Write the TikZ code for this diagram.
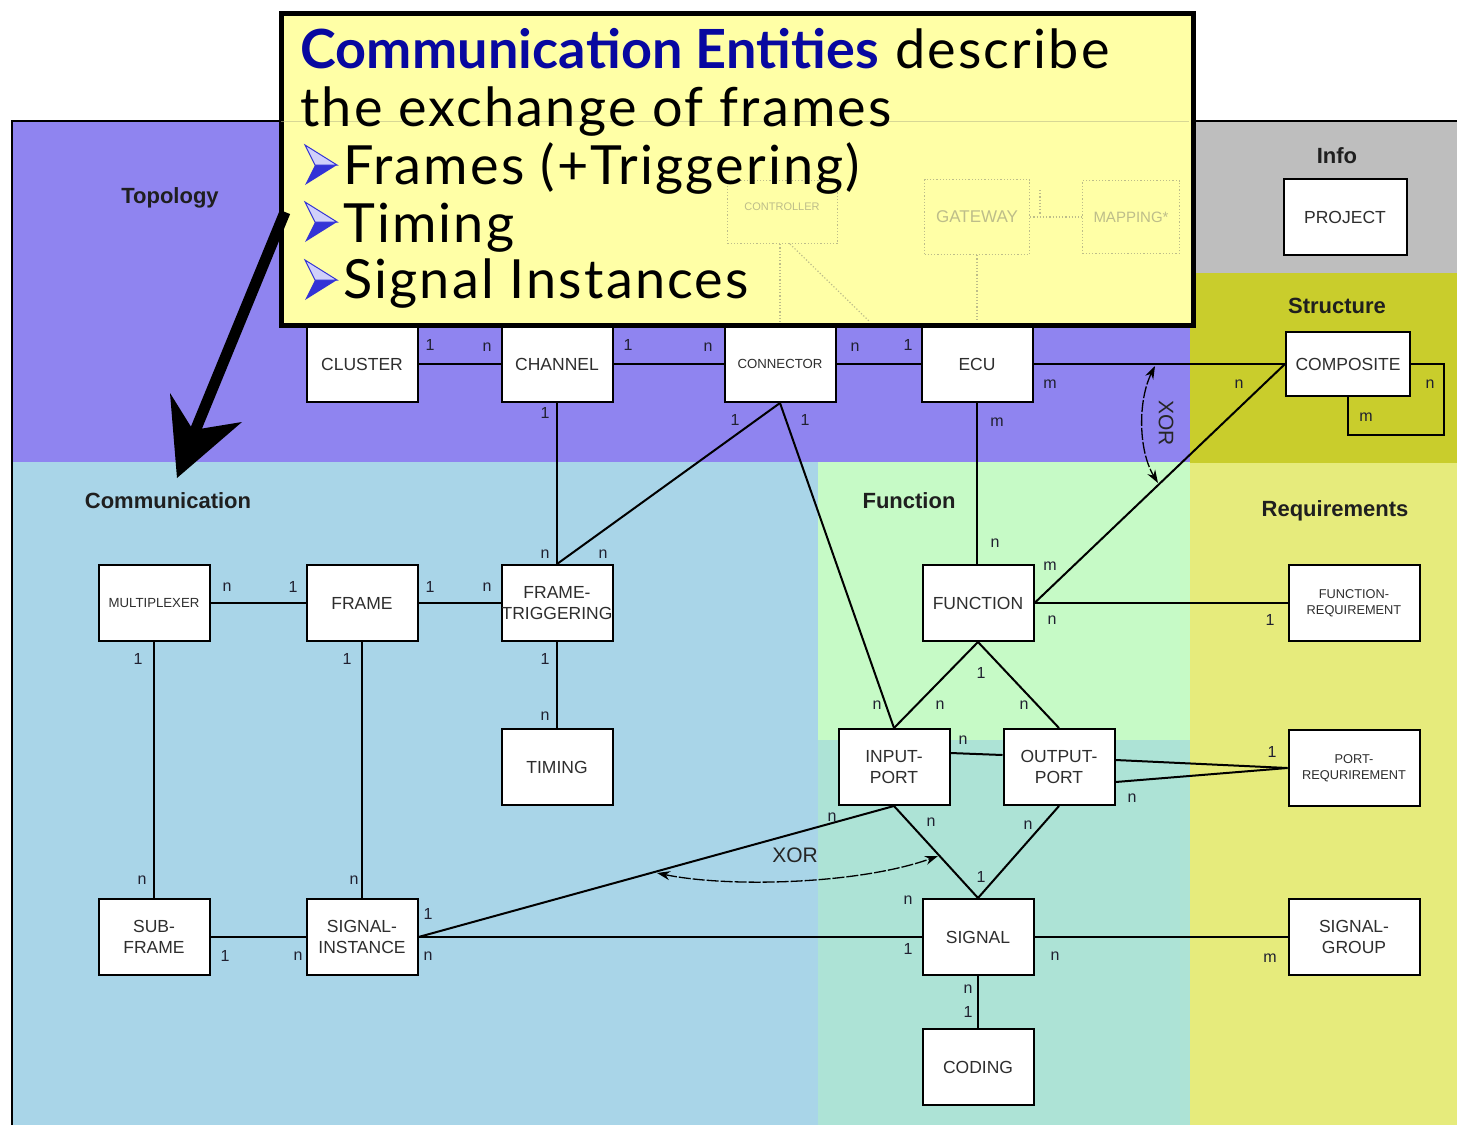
\documentclass[tikz,border=0pt]{standalone}
\usepackage{fontspec}
\setmainfont{Liberation Sans}
\newfontfamily\callfont[LetterSpace=4, BoldFeatures={LetterSpace=0.3}]{Lato}
\usetikzlibrary{arrows.meta,calc}

\definecolor{topo}{HTML}{8F84F0}
\definecolor{comm}{HTML}{A9D5E8}
\definecolor{func}{HTML}{C6FAC6}
\definecolor{overlap}{HTML}{ADE3D6}
\definecolor{reqs}{HTML}{E6EB7C}
\definecolor{struct}{HTML}{C9CD2C}
\definecolor{info}{HTML}{BEBEBE}
\definecolor{callfill}{HTML}{FFFFA6}
\definecolor{calltitle}{HTML}{0808A0}
\definecolor{bulletblue}{HTML}{3333D6}
\definecolor{bulletlight}{HTML}{D0D0FA}
\definecolor{boxtext}{HTML}{2E2E2E}
\definecolor{cardtext}{HTML}{202030}
\definecolor{ghost}{HTML}{BDBD8A}

\tikzset{
  entity/.style={draw=black, line width=2pt, fill=white, minimum width=111pt,
    minimum height=76pt, inner sep=0pt, align=center, text=boxtext,
    font=\fontsize{17.5}{21}\selectfont},
  smalltext/.style={font=\fontsize{13.2}{15}\selectfont},
  reqtext/.style={font=\fontsize{12.8}{16}\selectfont},
  link/.style={draw=black, line width=2pt},
  card/.style={font=\fontsize{16}{16}\selectfont, text=cardtext, inner sep=0pt},
  region/.style={font=\bfseries\fontsize{22}{22}\selectfont, text=black!88, inner sep=0pt},
  xorlabel/.style={font=\fontsize{21}{21}\selectfont, text=black!85, inner sep=0pt},
  xorarc/.style={line width=1.3pt, dash pattern=on 12pt off 2pt,
    {Stealth[length=13pt,width=9pt]}-{Stealth[length=13pt,width=9pt]}},
  calltext/.style={font=\callfont\fontsize{54}{58}\selectfont, inner sep=0pt, anchor=base west},
  ghostbox/.style={draw=ghost, dotted, line width=1.2pt, inner sep=0pt,
    font=\fontsize{13}{15}\selectfont, text=ghost},
  callbullet/.pic={
    \fill[bulletblue] (0,0) -- (-22,0) -- (-32,20) -- cycle;
    \filldraw[fill=bulletlight, draw=bulletblue, line width=1pt] (0,0) -- (-32,-20) -- (-22,0) -- cycle;
  }
}

\begin{document}
\begin{tikzpicture}[x=1pt, y=-1pt]
\useasboundingbox (0,0) rectangle (1457,1125);
\fill[white] (0,0) rectangle (1457,1125);

% package regions
\fill[topo] (12,121) rectangle (1190,462);
\fill[info] (1190,121) rectangle (1457,273);
\fill[struct] (1190,273) rectangle (1457,463);
\fill[comm] (12,462) rectangle (818,1125);
\fill[func] (818,462) rectangle (1190,740);
\fill[overlap] (818,740) rectangle (1190,1125);
\fill[reqs] (1190,463) rectangle (1457,1125);
\draw[line width=2pt] (12,1125) -- (12,121) -- (1457,121);

% region titles
\node[region] (tTopo) at (170,198) {Topology};
\node[region] (tInfo) at (1337,156) {Info};
\node[region] (tStruct) at (1337,306) {Structure};
\node[region] (tComm) at (168,501) {Communication};
\node[region] (tFunc) at (909,501) {Function};
\node[region] (tReq) at (1335,511) {Requirements};

% entities
\node[entity] (cluster) at (362,364) {CLUSTER};
\node[entity] (channel) at (557,364) {CHANNEL};
\node[entity, smalltext] (connector) at (780,364) {CONNECTOR};
\node[entity] (ecu) at (977,364) {ECU};
\node[entity, minimum width=124pt, minimum height=64pt] (composite) at (1348,364) {COMPOSITE};
\node[entity, minimum width=123pt] (project) at (1345,217) {PROJECT};
\node[entity, smalltext] (mux) at (154,603) {MULTIPLEXER};
\node[entity] (frame) at (362,603) {FRAME};
\node[entity] (ftrig) at (557,603) {FRAME-\\TRIGGERING};
\node[entity] (function) at (978,603) {FUNCTION};
\node[entity, minimum width=131pt, reqtext] (freq) at (1354,603) {FUNCTION-\\REQUIREMENT};
\node[entity] (timing) at (557,767) {TIMING};
\node[entity] (inport) at (894,767) {INPUT-\\PORT};
\node[entity] (outport) at (1059,767) {OUTPUT-\\PORT};
\node[entity, minimum width=131pt, reqtext] (preq) at (1354,768) {PORT-\\REQURIREMENT};
\node[entity] (subframe) at (154,937) {SUB-\\FRAME};
\node[entity] (siginst) at (362,937) {SIGNAL-\\INSTANCE};
\node[entity] (signal) at (978,937) {SIGNAL};
\node[entity, minimum width=131pt] (sgroup) at (1354,937) {SIGNAL-\\GROUP};
\node[entity] (coding) at (978,1067) {CODING};

% relations
\draw[link] (cluster) -- (channel);
\draw[link] (channel) -- (connector);
\draw[link] (connector) -- (ecu);
\draw[link] (ecu.east) -- (composite.west);
\draw[link] (composite.east) -- ++(33,0) -- ++(0,71) -| (composite.south);
\draw[link] (ecu.south) -- (ecu.south |- function.north);
\draw[link] (function.east) -- (composite.west);
\draw[link] (channel.south) -- (ftrig.north);
\draw[link] (connector.south) -- (ftrig.north);
\draw[link] (connector.south) -- (inport.north);
\draw[link] (mux) -- (frame);
\draw[link] (frame) -- (ftrig);
\draw[link] (ftrig) -- (timing);
\draw[link] (mux) -- (subframe);
\draw[link] (frame) -- (siginst);
\draw[link] (subframe) -- (siginst);
\draw[link] (siginst) -- (signal);
\draw[link] (siginst.east) -- (inport.south);
\draw[link] (function.south) -- (inport.north);
\draw[link] (function.south) -- (outport.north);
\draw[link] ($(inport.east)+(0,-14)$) -- ($(outport.west)+(0,-12)$);
\draw[link] (inport.south) -- (signal.north);
\draw[link] (outport.south) -- (signal.north);
\draw[link] (function.east) -- (freq.west);
\draw[link] ($(outport.east)+(0,-7)$) -- (preq.west);
\draw[link] ($(outport.east)+(0,15)$) -- (preq.west);
\draw[link] (signal) -- (sgroup);
\draw[link] (signal) -- (coding);

% XOR constraints
\coordinate (xa1) at (1155,366);
\coordinate (xa2) at (1158,483);
\draw[xorarc] (xa1) .. controls (1138,400) and (1138,450) .. (xa2);
\node[xorlabel, rotate=-90] (xorA) at (1166,423) {XOR};
\coordinate (xb1) at (657,873);
\coordinate (xb2) at (938,856);
\draw[xorarc] (xb1) .. controls (730,888) and (860,884) .. (xb2);
\node[xorlabel] (xorB) at (795,855) {XOR};

% cardinalities
\foreach \px/\py/\t [count=\i] in {
  430/345/1, 487/347/n, 628/345/1, 708/347/n, 855/347/n, 908/345/1,
  1050/384/m, 1239/384/n, 1430/384/n, 1366/417/m, 545/413/1, 735/420/1,
  805/420/1, 997/422/m, 545/554/n, 603/554/n, 995/543/n, 1050/566/m,
  227/587/n, 293/587/1, 430/587/1, 487/587/n, 1052/620/n, 1270/620/1,
  138/659/1, 347/659/1, 545/659/1, 981/673/1, 545/716/n, 877/705/n,
  940/705/n, 1024/705/n, 963/740/n, 1272/752/1, 1132/798/n, 832/817/n,
  931/822/n, 1028/825/n, 142/880/n, 354/880/n, 981/877/1, 908/900/n,
  428/914/1, 225/956/1, 298/956/n, 428/956/n, 908/949/1, 1055/956/n,
  1270/958/m, 968/989/n, 968/1012/1}
  \node[card, name=card\i] at (\px,\py) {\t};

% callout
\node[draw=black, line width=4.5pt, fill=callfill, minimum width=912pt,
      minimum height=312pt, anchor=north west, inner sep=0pt] (callout) at (279,11) {};
% faint topology entities behind the callout
\draw[ghost, line width=1pt, opacity=0.6] (281,121) -- (1189,121);
\node[ghostbox, minimum width=110pt, minimum height=63pt, anchor=north west] (ghctrl) at (727,180) {};
\node[ghostbox, draw=none, anchor=north, font=\fontsize{11}{13}\selectfont] (ghctrlt) at (782,202) {CONTROLLER};
\node[ghostbox, minimum width=105pt, minimum height=75pt, font=\fontsize{17}{19}\selectfont] (gateway) at (977,217) {GATEWAY};
\node[ghostbox, minimum width=97pt, minimum height=73pt, font=\fontsize{15}{17}\selectfont] (mapping) at (1131,217) {MAPPING*};
\draw[ghost, dotted, line width=1.2pt] (gateway.east) -- (mapping.west);
\draw[ghost, dotted, line width=1.2pt] (ghctrl.south -| 780,0) -- (780,322);
\draw[ghost, dotted, line width=1.2pt] (790,244) -- (870,322);
\draw[ghost, dotted, line width=1.2pt] (gateway.south) -- (977,322);
\draw[ghost, dotted, line width=1.2pt] (1040,190) -- (1040,214);

\node[calltext] (cl1) at (300,68) {\textcolor{calltitle}{\bfseries Communication Entities} describe};
\node[calltext] (cl2) at (300,126) {the exchange of frames};
\node[calltext] (cl3) at (343,184) {Frames (+Triggering)};
\node[calltext] (cl4) at (343,242) {Timing};
\node[calltext] (cl5) at (343,298) {Signal Instances};
\pic at (337,165) {callbullet};
\pic at (337,222) {callbullet};
\pic at (337,280) {callbullet};

% pointer to the communication package
\coordinate (arrowstart) at (285,212);
\coordinate (arrowtip) at (177,478);
\draw[line width=11pt] (arrowstart) -- (193,436);
\fill (arrowtip) -- (170,393) -- (193,430) -- (242,422) -- cycle;
\end{tikzpicture}
\end{document}
